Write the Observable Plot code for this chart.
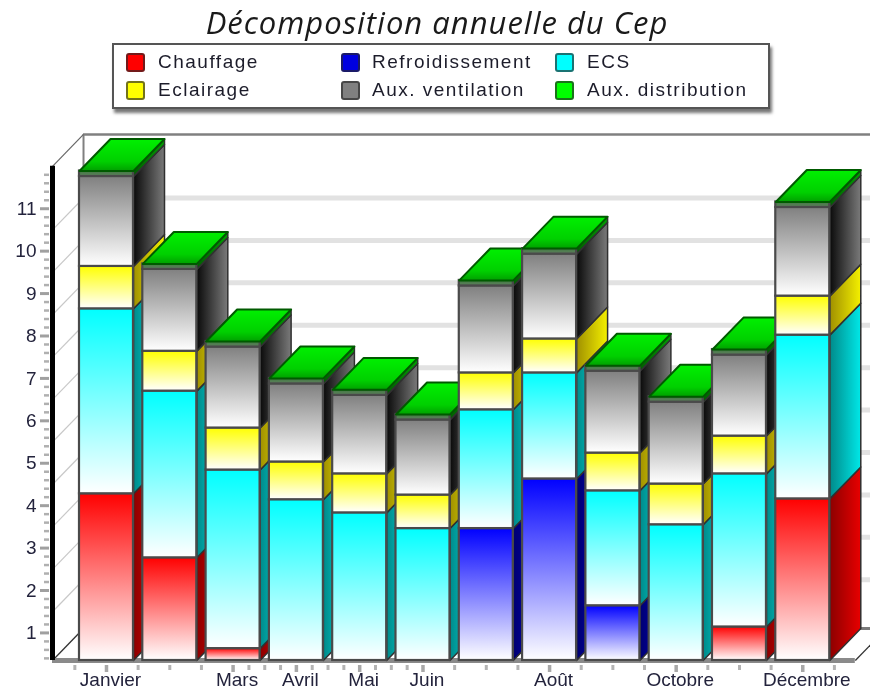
<!DOCTYPE html>
<html>
<head>
<meta charset="utf-8">
<script src="https://cdn.jsdelivr.net/npm/d3@7"></script>
<script src="https://cdn.jsdelivr.net/npm/@observablehq/plot@0.6"></script>
<style>
  html,body{margin:0;padding:0;background:#fff;width:870px;height:691px;overflow:hidden}
  body{filter:blur(0.4px)}
  #title{height:42px;text-align:center;font:italic 400 31px/44px "Open Sans",sans-serif;letter-spacing:1px;color:#1a1a1a;padding-left:4px;box-sizing:border-box;white-space:nowrap}
  #legendWrap{height:73px;position:relative}
  #legend{position:absolute;left:112px;top:1px;width:654px;height:62px;border:2px solid #555;background:#fff;box-shadow:2px 4px 3px #777}
  .item{position:absolute;font:19px "Liberation Sans",Arial,sans-serif;letter-spacing:1.5px;color:#1c1c2a;white-space:nowrap;line-height:22px}
  .sw{position:absolute;width:15px;height:15px;border:2px solid rgba(40,40,40,.65);border-radius:3px;box-sizing:content-box}
  svg{display:block}
</style>
</head>
<body>
<div id="title">Décomposition annuelle du Cep</div>
<div id="legendWrap"><div id="legend"></div></div>
<div id="chart"></div>
<script>
const months = ["Janvier","Février","Mars","Avril","Mai","Juin","Juillet","Août","Septembre","Octobre","Novembre","Décembre"];
const labelledMonths = [0,2,3,4,5,7,9,11];

// segment heights, bottom to top of each stack
const chauffage       = [3.93,2.42,0.28,0,0,0,0,0,0,0,0.79,3.81];
const refroidissement = [0,0,0,0,0,0,3.11,4.28,1.29,0,0,0];
const ecs             = [4.36,3.93,4.21,3.79,3.48,3.11,2.80,2.50,2.71,3.20,3.61,3.86];
const eclairage       = [1.00,0.94,0.99,0.89,0.92,0.79,0.87,0.80,0.89,0.96,0.89,0.92];
const ventilation     = [2.12,1.93,1.91,1.84,1.85,1.77,2.05,2.00,1.93,1.93,1.91,2.09];
const distribution    = [0.13,0.13,0.13,0.13,0.13,0.13,0.13,0.13,0.13,0.13,0.13,0.13];

const seriesNames  = ["Chauffage","Refroidissement","ECS","Eclairage","Aux. ventilation","Aux. distribution"];
const seriesValues = [chauffage,refroidissement,ecs,eclairage,ventilation,distribution];
const seriesIds    = ["red","blue","cyan","yellow","gray","green"];
const frontColors  = ["#ff0000","#0000ff","#00ffff","#ffff00","#808080","#3f7a3f"];
const frontEnds    = ["#ffffff","#ffffff","#ffffff","#ffffff","#ffffff","#5f7f5f"];
const sideFrom     = ["#8c0000","#000070","#008a8a","#a09000","#0a0a0a","#006000"];
const sideTo       = ["#e80000","#0000d0","#00e8e8","#f4f000","#7a7a7a","#00a000"];
const swatchColors = ["#ff0000","#0000e0","#00ffff","#ffff00","#808080","#00ff00"];

const yTicks = [1,2,3,4,5,6,7,8,9,10,11];
const gridValues = [1.5,2.5,3.5,4.5,5.5,6.5,7.5,8.5,9.5,10.5];

// chart frame, in data units
const baseline = 0.35, axisTop = 12, depthY = 0.753, yMax = 12.75;
const xMin = -0.853, xMax = 12.07, floorEnd = 11.83, half = 0.4265, depthX = 0.49;

// legend
const legendOrder = [[0,0,0],[1,1,0],[2,2,0],[3,0,1],[4,1,1],[5,2,1]];
const legendSwatchX = [12,227,441], legendTextX = [44,258,473], legendY = [8,36];
const legendEl = document.getElementById("legend");
legendOrder.forEach(([s,c,r]) => {
  const sw = document.createElement("div");
  sw.className = "sw";
  sw.style.cssText = `left:${legendSwatchX[c]}px;top:${legendY[r]}px;background:${swatchColors[s]}`;
  legendEl.appendChild(sw);
  const t = document.createElement("div");
  t.className = "item";
  t.textContent = seriesNames[s];
  t.style.cssText = `left:${legendTextX[c]}px;top:${legendY[r]-2}px`;
  legendEl.appendChild(t);
});

// gradients
const defs = () => {
  const d = d3.create("svg:defs");
  seriesIds.forEach((id,i) => {
    const f = d.append("linearGradient").attr("id","front-"+id).attr("x1",0).attr("y1",0).attr("x2",0).attr("y2",1);
    f.append("stop").attr("offset",0).attr("stop-color",frontColors[i]);
    f.append("stop").attr("offset",1).attr("stop-color",frontEnds[i]);
    const s = d.append("linearGradient").attr("id","side-"+id).attr("x1",0).attr("y1",0).attr("x2",1).attr("y2",0);
    s.append("stop").attr("offset",0).attr("stop-color",sideFrom[i]);
    s.append("stop").attr("offset",1).attr("stop-color",sideTo[i]);
  });
  const t = d.append("linearGradient").attr("id","top-green").attr("x1",0).attr("y1",1).attr("x2",0).attr("y2",0);
  t.append("stop").attr("offset",0).attr("stop-color","#00a000");
  t.append("stop").attr("offset",0.3).attr("stop-color","#00d000");
  t.append("stop").attr("offset",1).attr("stop-color","#00f000");
  return d.node();
};

// one stack per month
const stacks = months.map((m,i) => {
  let y = baseline;
  const segs = [];
  seriesIds.forEach((id,s) => {
    const v = seriesValues[s][i];
    if (v > 0) { segs.push({m:i,id,y1:y,y2:y+v}); y += v; }
  });
  return {i,segs,top:y};
});

const bar = ({i,segs,top}) => {
  const r = i + half, l = i - half;
  const sidePts = segs.flatMap((g,k) => [
    [r,g.y1],[r+depthX,g.y1+depthY],[r+depthX,g.y2+depthY],[r,g.y2],[r,g.y1]
  ].map(([x,y]) => ({x,y,k,fill:`url(#side-${g.id})`})));
  const topPts = [[l,top],[l+depthX,top+depthY],[r+depthX,top+depthY],[r,top],[l,top]].map(([x,y]) => ({x,y}));
  return [
    Plot.line(sidePts,{x:"x",y:"y",z:"k",fill:{value:"fill",scale:null},stroke:"#303030",strokeWidth:1.5,curve:"linear"}),
    Plot.rect(segs,{x1:d=>l,x2:d=>r,y1:"y1",y2:"y2",fill:d=>`url(#front-${d.id})`,stroke:"#4a4a4a",strokeWidth:2.2}),
    Plot.line(topPts,{x:"x",y:"y",fill:"url(#top-green)",stroke:"#005a00",strokeWidth:2,curve:"linear"})
  ];
};

// axis tick positions
const minorY = d3.range(baseline+0.05,axisTop+0.01,0.2).filter(v => Math.abs(v-Math.round(v))>0.05);
const minorX = labelledMonths.slice(1).flatMap((b,k) => {
  const a = labelledMonths[k];
  return [1,2,3].map(q => a+(b-a)*q/4);
}).concat([-0.5,11.5]);

const chart = Plot.plot({
  width:870, height:576,
  marginLeft:52, marginRight:0, marginTop:19, marginBottom:31,
  x:{domain:[xMin,xMax],axis:null,label:null},
  y:{domain:[baseline,yMax],axis:null,label:null},
  style:{background:"transparent",overflow:"hidden",fontFamily:'"Liberation Sans",Arial,sans-serif'},
  marks:[
    defs,
    // back wall grid
    Plot.ruleY(gridValues.map(v=>v+depthY),{x1:xMin+depthX,x2:xMax,stroke:"#e2e2e2",strokeWidth:5}),
    // left wall grid
    Plot.link(gridValues,{x1:()=>xMin,y1:d=>d,x2:()=>xMin+depthX,y2:d=>d+depthY,stroke:"#c8c8c8",strokeWidth:1.2}),
    // walls and floor outline
    Plot.ruleY([yMax],{x1:xMin+depthX,x2:xMax,stroke:"#808080",strokeWidth:2.5}),
    Plot.ruleX([xMin+depthX],{y1:baseline+depthY,y2:yMax,stroke:"#808080",strokeWidth:2}),
    Plot.link([axisTop],{x1:()=>xMin,y1:d=>d,x2:()=>xMin+depthX,y2:d=>d+depthY,stroke:"#666",strokeWidth:1.2}),
    Plot.ruleY([baseline+depthY],{x1:xMin+depthX,x2:xMax,stroke:"#7a7a7a",strokeWidth:3}),
    Plot.link([xMin,floorEnd],{x1:d=>d,y1:()=>baseline,x2:d=>d+depthX,y2:()=>baseline+depthY,stroke:"#333",strokeWidth:1.3}),
    // bottom edge, below the bars
    Plot.ruleY([baseline],{x1:xMin,x2:floorEnd,stroke:"#8a8a8a",strokeWidth:5}),
    ...stacks.flatMap(bar),
    // axes
    Plot.ruleX([xMin],{y1:baseline,y2:axisTop,stroke:"#000",strokeWidth:5}),
    Plot.axisY({ticks:minorY,tickSize:5,dx:-3,stroke:"#b0b0b0",strokeWidth:2.5,fill:"none",label:null}),
    Plot.axisY({ticks:yTicks,tickSize:9,tickPadding:4,dx:-3,stroke:"#a0a0a0",strokeWidth:3,fontSize:19,fill:"#23233c",tickFormat:d=>String(d),label:null}),
    Plot.axisX({ticks:minorX,tickSize:5,dy:5,stroke:"#b4b4b4",strokeWidth:3,fill:"none",label:null}),
    Plot.axisX({ticks:labelledMonths,tickSize:7,dy:5,stroke:"#a8a8a8",strokeWidth:3.5,fill:"none",label:null}),
    Plot.axisX({ticks:labelledMonths,tickSize:0,tickPadding:12,dx:4,stroke:"none",fontSize:19,fill:"#23233c",
      tickFormat:d=>months[d],label:null,style:{letterSpacing:"2.2px"}})
  ]
});
document.getElementById("chart").appendChild(chart);
</script>
</body>
</html>
